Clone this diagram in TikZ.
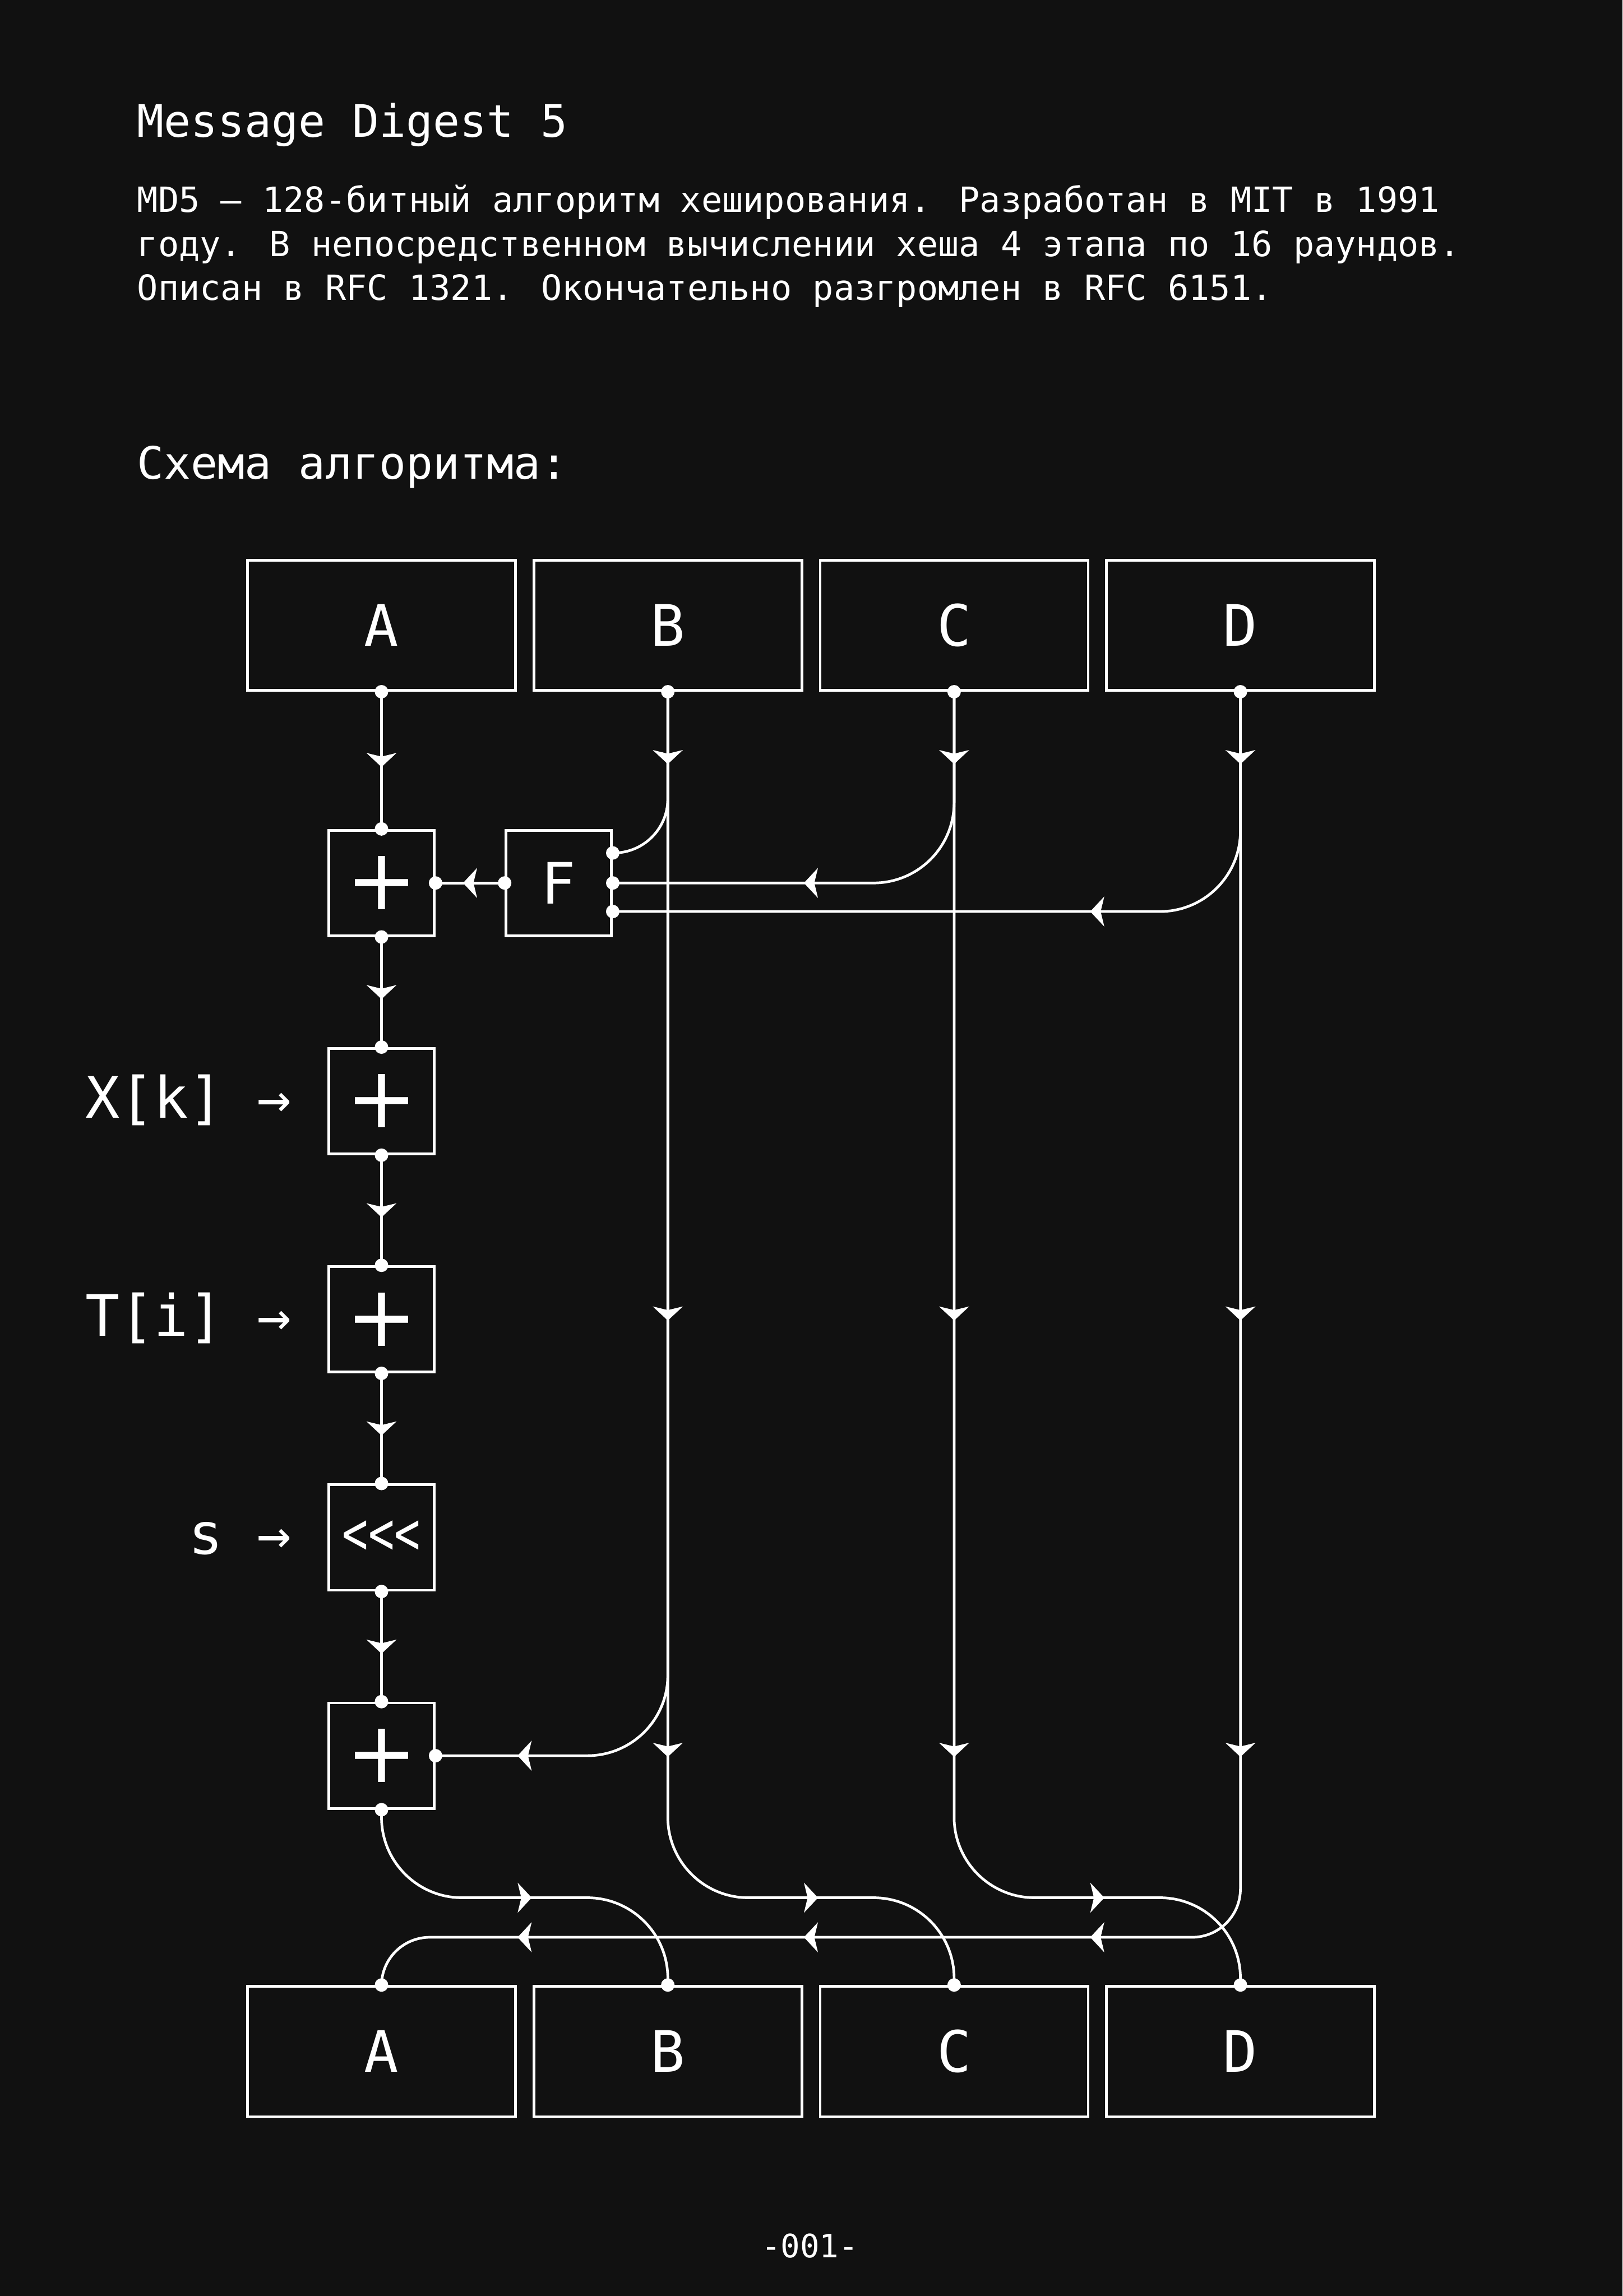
\documentclass[tikz,border=0pt]{standalone}
\usepackage{fontspec}
\usepackage{graphicx}
\newfontfamily\mono{DejaVu Sans Mono}
\newfontfamily\plusfont{DejaVu Sans}
\usetikzlibrary{calc}
\definecolor{bg}{HTML}{111111}
\begin{document}
\begin{tikzpicture}[x=1pt,y=-1pt,
  wire/.style={draw=white, line width=1.8pt},
  bigbox/.style={draw=white, line width=1.8pt, minimum width=183pt, minimum height=89pt, inner sep=0pt, text=white, font=\mono\fontsize{39}{44}\selectfont},
  opbox/.style={draw=white, line width=1.8pt, minimum width=72pt, minimum height=72pt, inner sep=0pt, text=white},
  plusop/.style={opbox, font=\plusfont\fontsize{58}{60}\selectfont},
  txt/.style={text=white, inner sep=0pt, anchor=base west},
  ahR/.pic={\fill[white] (4.8,0) -- (-4.8,10.3) -- (-2.3,0) -- (-4.8,-10.3) -- cycle;},
  ahL/.pic={\fill[white] (-4.8,0) -- (4.8,10.3) -- (2.3,0) -- (4.8,-10.3) -- cycle;},
  ahD/.pic={\fill[white] (0,4.8) -- (10.3,-4.8) -- (0,-2.3) -- (-10.3,-4.8) -- cycle;}
]
\fill[bg] (0,0) rectangle (1108,1568);
\useasboundingbox (0,0) rectangle (1108,1568);

% texts
\node[txt, font=\mono\fontsize{30.5}{36}\selectfont] (title) at (93.5,93.5) {Message Digest 5};
\node[txt, font=\mono\fontsize{23.7}{30}\selectfont] (l1) at (93.5,145) {MD5 – 128-битный алгоритм хеширования. Разработан в MIT в 1991};
\node[txt, font=\mono\fontsize{23.7}{30}\selectfont] (l2) at (93.5,175) {году. В непосредственном вычислении хеша 4 этапа по 16 раундов.};
\node[txt, font=\mono\fontsize{23.7}{30}\selectfont] (l3) at (93.5,205) {Описан в RFC 1321. Окончательно разгромлен в RFC 6151.};
\node[txt, font=\mono\fontsize{30.5}{36}\selectfont] (sub) at (93.5,327) {Схема алгоритма:};
\node[text=white, inner sep=0pt, anchor=base, font=\mono\fontsize{22}{26}\selectfont] (page) at (553,1541.7) {-001-};

% top / bottom registers
\node[bigbox] (At) at (260.5,427) {A};
\node[bigbox] (Bt) at (456,427) {B};
\node[bigbox] (Ct) at (651.5,427) {C};
\node[bigbox] (Dt) at (847,427) {D};
\node[bigbox] (Ab) at (260.5,1401) {A};
\node[bigbox] (Bb) at (456,1401) {B};
\node[bigbox] (Cb) at (651.5,1401) {C};
\node[bigbox] (Db) at (847,1401) {D};

% operation boxes
\node[plusop] (p1) at (260.5,603) {+};
\node[opbox, font=\mono\fontsize{39}{44}\selectfont] (F) at (381.5,603) {F};
\node[plusop] (p2) at (260.5,752) {+};
\node[plusop] (p3) at (260.5,901) {+};
\node[opbox, font=\mono\fontsize{41}{44}\selectfont] (rot) at (260.5,1050) {\scalebox{0.72}[1]{<{}<{}<}};
\node[plusop] (p5) at (260.5,1199) {+};

% side labels
\node[txt, font=\mono\fontsize{39}{44}\selectfont] (xk) at (58,763.5) {X[k] →};
\node[txt, font=\mono\fontsize{39}{44}\selectfont] (ti) at (58,912.5) {T[i] →};
\node[txt, font=\mono\fontsize{39}{44}\selectfont] (sl) at (128.5,1061.5) {s →};

% F ports
\coordinate (F1) at ($(F.east)+(0,-20.5)$);
\coordinate (F2) at (F.east);
\coordinate (F3) at ($(F.east)+(0,19.5)$);
\coordinate (hu) at (0,1296);
\coordinate (hl) at (0,1323);

% A chain
\draw[wire] (At.south) -- (p1.north);
\draw[wire] (p1.south) -- (p2.north);
\draw[wire] (p2.south) -- (p3.north);
\draw[wire] (p3.south) -- (rot.north);
\draw[wire] (rot.south) -- (p5.north);
\draw[wire] (F.west) -- (p1.east);

% inputs to F
\draw[wire, rounded corners=37pt] (Bt.south) |- (F1);
\draw[wire, rounded corners=55pt] (Ct.south) |- (F2);
\draw[wire, rounded corners=55pt] (Dt.south) |- (F3);
% B to last adder
\draw[wire, rounded corners=55pt] (Bt.south) |- (p5.east);

% output permutation
\draw[wire, rounded corners=55pt] (p5.south) |- (hu -| Bb.north) -- (Bb.north);
\draw[wire, rounded corners=55pt] (Bt.south) |- (hu -| Cb.north) -- (Cb.north);
\draw[wire, rounded corners=55pt] (Ct.south) |- (hu -| Db.north) -- (Db.north);
\draw[wire, rounded corners=33pt] (Dt.south) |- (hl -| Ab.north) -- (Ab.north);

% arrowheads
\foreach \y in {519,677.5,826.5,975.5,1124.5} {\pic at (260.5,\y) {ahD};}
\foreach \x in {456,651.5,847} {
  \pic at (\x,517) {ahD};
  \pic at (\x,897) {ahD};
  \pic at (\x,1195) {ahD};
}
\pic at (321,603) {ahL};
\pic at (553.75,603) {ahL};
\pic at (749.25,622.5) {ahL};
\pic at (358.25,1199) {ahL};
\foreach \x in {358.25,553.75,749.25} {
  \pic at (\x,1296) {ahR};
  \pic at (\x,1323) {ahL};
}

% junction dots
\foreach \n in {At,Bt,Ct,Dt} {\fill[white] (\n.south) circle (4.6);}
\foreach \n in {Ab,Bb,Cb,Db} {\fill[white] (\n.north) circle (4.6);}
\foreach \n in {p1,p2,p3,rot,p5} {\fill[white] (\n.north) circle (4.6); \fill[white] (\n.south) circle (4.6);}
\fill[white] (p1.east) circle (4.6);
\fill[white] (p5.east) circle (4.6);
\fill[white] (F.west) circle (4.6);
\foreach \c in {F1,F2,F3} {\fill[white] (\c) circle (4.6);}
\end{tikzpicture}
\end{document}
